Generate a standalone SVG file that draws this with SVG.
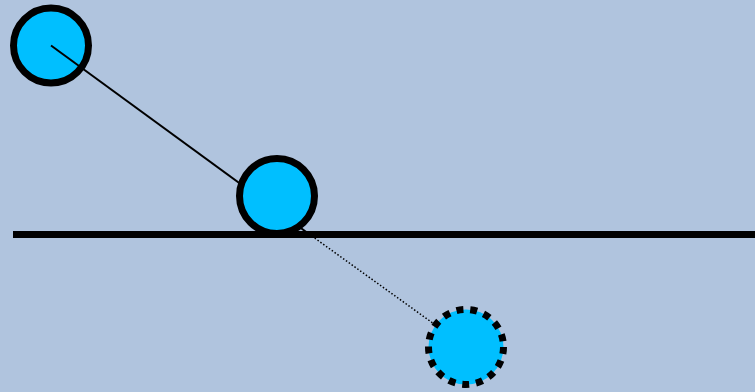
<svg xmlns="http://www.w3.org/2000/svg" width="755" height="392" viewBox="0 0 755 392">
<style>
.ball{fill:#00bfff;stroke:#000;stroke-width:7}
.ghost{stroke-dasharray:7 6.9}
</style>
<rect width="755" height="392" fill="#b0c4de"/>
<g id="ball1"><circle class="ball" cx="51" cy="45.5" r="37.5"/></g>
<g id="connectors">
<line x1="51" y1="45.5" x2="309" y2="234" stroke="#000" stroke-width="2"/>
<line x1="309" y1="234" x2="466" y2="347" stroke="#000" stroke-width="1.5" stroke-dasharray="1.5 2"/>
</g>
<g id="ball2"><circle class="ball" cx="277" cy="196" r="37.5"/></g>
<g id="ground"><line x1="13" y1="234.5" x2="755" y2="234.5" stroke="#000" stroke-width="7"/></g>
<g id="ball3"><circle class="ball ghost" cx="466" cy="347" r="37.5"/></g>
</svg>
